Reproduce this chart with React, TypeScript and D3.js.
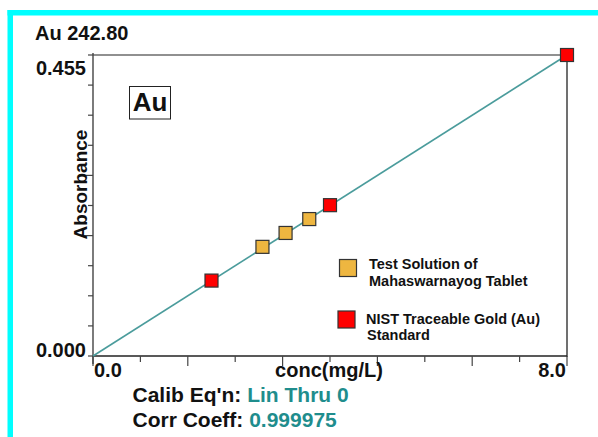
import React from 'react'
import * as d3 from "d3";

// calibration points
const stdConc = [2.0, 4.0, 8.0]
const stdAbs = [0.114, 0.228, 0.455]
const sampleConc = [2.86, 3.25, 3.65]
const sampleAbs = [0.165, 0.186, 0.207]
// fitted line, linear through zero
const fitConc = [0, 8.0]
const fitAbs = [0, 0.455]

const xDomain = [0, 8.0]
const yDomain = [0, 0.455]
const xTickLabels = ["0.0", "8.0"]
const yTickLabels = ["0.000", "0.455"]
const majorYTicks = [4, 6]

const legendLabels = [
  ["Test Solution of", "Mahaswarnayog Tablet"],
  ["NIST Traceable Gold (Au)", "Standard"],
]

const FONT = "'Liberation Sans', Arial, sans-serif"
const TEAL_LINE = "#4b9c9c"
const TEAL_TEXT = "#1f8d8d"
const ORANGE = "#eeb640"
const RED = "#ff0000"

const App: React.FC = () => {
  const width = 598
  const height = 437
  const plot = { left: 93, right: 567, top: 55, bottom: 356 }

  const xScale = d3.scaleLinear().domain(xDomain).range([plot.left, plot.right])
  const yScale = d3.scaleLinear().domain(yDomain).range([plot.bottom, plot.top])

  const xTicks = d3.range(0, 11).map(i => xDomain[1] * i / 10)
  const yTicks = d3.range(0, 11).map(i => yDomain[1] * i / 10)

  const fitLine = d3.line<number>()
    .x((_, i) => xScale(fitConc[i]))
    .y(d => yScale(d))

  const markerSize = 13

  return (
    <svg width={width} height={height}
      style={{ position: 'absolute', left: 0, top: 0, background: '#fff' }}
      fontFamily={FONT} fontWeight="bold">
      {/* cyan frame, top and left only */}
      <rect x={7.5} y={10} width={width - 7.5} height={5.5} fill="#00ffff" />
      <rect x={7.5} y={10} width={5.5} height={height - 10} fill="#00ffff" />

      <text x={35} y={40} fontSize={20} fill="#111">Au 242.80</text>

      {/* axes frame */}
      <line x1={plot.left} x2={plot.right} y1={plot.top} y2={plot.top} stroke="#222" strokeWidth={1.2} />
      <line x1={plot.right} x2={plot.right} y1={plot.top} y2={plot.bottom + 1} stroke="#707070" strokeWidth={2} />
      <line x1={plot.left} x2={plot.left} y1={plot.top - 2} y2={plot.bottom + 8} stroke="#444" strokeWidth={1.4} />
      <line x1={plot.left} x2={plot.right} y1={plot.bottom} y2={plot.bottom} stroke="#222" strokeWidth={1.4} />

      {yTicks.map((t, i) => {
        const len = majorYTicks.includes(i) ? 9 : 5
        return <line key={'y' + i} x1={plot.left - len} x2={plot.left} y1={yScale(t)} y2={yScale(t)}
          stroke="#444" strokeWidth={1.2} />
      })}
      {xTicks.map((t, i) => {
        const len = i % 2 === 0 ? 10 : 6
        return <line key={'x' + i} x1={xScale(t)} x2={xScale(t)} y1={plot.bottom} y2={plot.bottom + len}
          stroke="#444" strokeWidth={1.2} />
      })}

      <text x={86} y={75} fontSize={20} textAnchor="end" fill="#111">{yTickLabels[1]}</text>
      <text x={86} y={356.5} fontSize={20} textAnchor="end" fill="#111">{yTickLabels[0]}</text>
      <text transform="translate(86.5,184.5) rotate(-90)" fontSize={19} textAnchor="middle" fill="#111">Absorbance</text>

      <text x={xScale(0) + 1} y={376.7} fontSize={20} fill="#111">{xTickLabels[0]}</text>
      <text x={xScale(8) - 1} y={376.7} fontSize={20} textAnchor="end" fill="#111">{xTickLabels[1]}</text>
      <text x={329} y={376.7} fontSize={20} textAnchor="middle" fill="#111">conc(mg/L)</text>

      <text x={132.5} y={401.7} fontSize={21} fill="#111">
        Calib Eq'n: <tspan fill={TEAL_TEXT}>Lin Thru 0</tspan>
      </text>
      <text x={132.5} y={427} fontSize={21} fill="#111">
        Corr Coeff: <tspan fill={TEAL_TEXT}>0.999975</tspan>
      </text>

      {/* element label box */}
      <rect x={129.5} y={86.5} width={41} height={32.5} fill="#fff" stroke="#222" strokeWidth={1} />
      <text x={150} y={110.7} fontSize={26} textAnchor="middle" fill="#111">Au</text>

      {/* calibration line */}
      <path d={fitLine(fitAbs) ?? ''} fill="none" stroke={TEAL_LINE} strokeWidth={1.6} />

      {sampleConc.map((c, i) => (
        <rect key={'s' + i} x={xScale(c) - markerSize / 2} y={yScale(sampleAbs[i]) - markerSize / 2}
          width={markerSize} height={markerSize} fill={ORANGE} stroke="#333" strokeWidth={1.2} />
      ))}
      {stdConc.map((c, i) => (
        <rect key={'r' + i} x={xScale(c) - markerSize / 2} y={yScale(stdAbs[i]) - markerSize / 2}
          width={markerSize} height={markerSize} fill={RED} stroke="#333" strokeWidth={1.2} />
      ))}

      {/* legend */}
      <rect x={339.5} y={259.5} width={17} height={17} fill={ORANGE} stroke="#333" strokeWidth={1.2} />
      <text x={369} y={269} fontSize={14.5} fill="#111">{legendLabels[0][0]}</text>
      <text x={369} y={286} fontSize={14.5} fill="#111">{legendLabels[0][1]}</text>
      <rect x={338} y={311} width={17} height={17} fill={RED} stroke="#333" strokeWidth={1.2} />
      <text x={366} y={324} fontSize={14.5} fill="#111">{legendLabels[1][0]}</text>
      <text x={367} y={340} fontSize={14.5} fill="#111">{legendLabels[1][1]}</text>
    </svg>
  )
}

export default App
